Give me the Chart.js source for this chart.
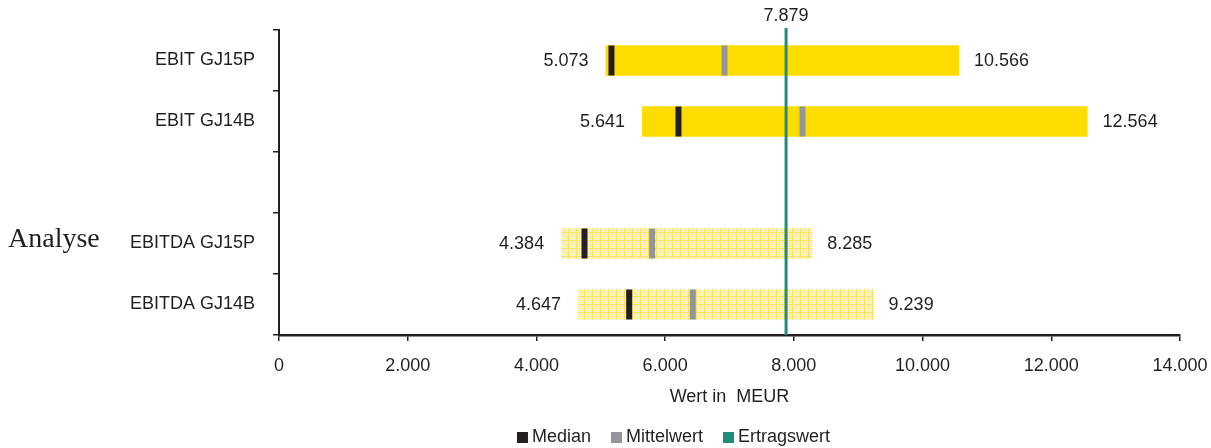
<!DOCTYPE html>
<html>
<head>
<meta charset="utf-8">
<script src="https://cdn.jsdelivr.net/npm/chart.js@4.4.1/dist/chart.umd.min.js"></script>
<style>
  html, body { margin: 0; padding: 0; background: #fff; }
  #wrap { width: 1211px; height: 448px; position: relative; }
</style>
</head>
<body>
<div id="wrap"><canvas id="chart"></canvas></div>
<script>
// Bandbreiten je Kennzahl (Anzeige mit Tausenderpunkt)
const categories = ['EBIT GJ15P', 'EBIT GJ14B', '', 'EBITDA GJ15P', 'EBITDA GJ14B'];
const minVals    = [5073, 5641, null, 4384, 4647];
const maxVals    = [10566, 12564, null, 8285, 9239];
const medianVals = [5166, 6207, null, 4747, 5441];
const meanVals   = [6922, 8134, null, 5798, 6430];
const ertragswert = 7879;
const xTicks = [0, 2000, 4000, 6000, 8000, 10000, 12000, 14000];

const INK = '#231f20';
const FONT = '"Liberation Sans", Arial, sans-serif';
const FSIZE = 18;
const YELLOW = '#ffdc00';
const GREY = '#939598';
const TEAL = '#1f8c7c';

const fmt = v => String(v).replace(/\B(?=(\d{3})+(?!\d))/g, '.');

// helles Karomuster fuer die EBITDA-Balken
function gridPattern() {
  const c = document.createElement('canvas');
  c.width = 8; c.height = 8;
  const g = c.getContext('2d');
  for (let i = 0; i < 8; i++) {
    for (let j = 0; j < 8; j++) {
      g.fillStyle = (i + j) % 2 ? '#fffce8' : '#fde97a';
      g.fillRect(i, j, 1, 1);
    }
  }
  g.fillStyle = '#fae25a';
  g.fillRect(0, 0, 8, 1);
  g.fillRect(0, 0, 1, 8);
  return g.createPattern(c, 'repeat');
}
const pattern = gridPattern();
const barColors = categories.map(c => c.startsWith('EBITDA') ? pattern : YELLOW);

// Werte links/rechts der Balken, Ertragswert-Linie, Achsentitel links, Legende unten
const annotate = {
  id: 'annotate',
  afterDatasetsDraw(chart) {
    const { ctx, chartArea } = chart;
    const x = chart.scales.x, y = chart.scales.y;
    ctx.save();
    ctx.font = FSIZE + 'px ' + FONT;
    ctx.fillStyle = INK;
    ctx.textBaseline = 'middle';
    categories.forEach((c, i) => {
      if (minVals[i] == null) return;
      const py = y.getPixelForValue(i) + 1;
      ctx.textAlign = 'right';
      ctx.fillText(fmt(minVals[i]), x.getPixelForValue(minVals[i]) - 17, py);
      ctx.textAlign = 'left';
      ctx.fillText(fmt(maxVals[i]), x.getPixelForValue(maxVals[i]) + 15, py);
    });

    const ex = x.getPixelForValue(ertragswert);
    ctx.strokeStyle = TEAL;
    ctx.lineWidth = 3;
    ctx.beginPath();
    ctx.moveTo(ex, chartArea.top - 2);
    ctx.lineTo(ex, chartArea.bottom);
    ctx.stroke();
    ctx.textAlign = 'center';
    ctx.fillText(fmt(ertragswert), ex, chartArea.top - 14);

    // Legende
    const items = chart.data.datasets.filter(d => d.label);
    let lw = 0;
    items.forEach((d, i) => { lw += 11 + 4 + ctx.measureText(d.label).width + (i ? 20 : 0); });
    let lx = chart.width / 2 + 68 - lw / 2;
    const ly = chart.height - 11;
    ctx.textAlign = 'left';
    items.forEach(d => {
      ctx.fillStyle = d.backgroundColor;
      ctx.fillRect(lx, ly - 5, 11, 11);
      lx += 15;
      ctx.fillStyle = INK;
      ctx.fillText(d.label, lx, ly);
      lx += ctx.measureText(d.label).width + 20;
    });

    ctx.font = '28px "Liberation Serif", "Times New Roman", serif';
    ctx.textBaseline = 'alphabetic';
    ctx.fillText('Analyse', 8, y.getPixelForValue(3) + 3);
    ctx.restore();
  }
};

const markStyle = color => ({
  type: 'line',
  showLine: false,
  pointStyle: 'line',
  rotation: 90,
  pointRadius: 15,
  pointBorderWidth: 6,
  borderWidth: 6,
  borderColor: color,
  pointBorderColor: color,
  backgroundColor: color,
  order: 0
});

new Chart(document.getElementById('chart'), {
  type: 'bar',
  data: {
    labels: categories,
    datasets: [
      { label: 'Median', data: medianVals, ...markStyle(INK) },
      { label: 'Mittelwert', data: meanVals, ...markStyle(GREY) },
      { label: 'Ertragswert', type: 'line', data: [], backgroundColor: TEAL, borderColor: TEAL, order: 0 },
      {
        label: '',
        data: categories.map((c, i) => minVals[i] == null ? null : [minVals[i], maxVals[i]]),
        backgroundColor: barColors,
        borderWidth: 0,
        barPercentage: 1,
        categoryPercentage: 0.5,
        order: 1
      }
    ]
  },
  options: {
    indexAxis: 'y',
    responsive: true,
    maintainAspectRatio: false,
    animation: false,
    events: [],
    layout: { padding: { left: 0, right: 31, top: 30, bottom: 33 } },
    scales: {
      x: {
        min: 0, max: 14000,
        afterBuildTicks: s => { s.ticks = xTicks.map(v => ({ value: v })); },
        afterFit: s => { s.height = 80; s.paddingLeft = 0; s.paddingRight = 0; },
        border: { color: INK, width: 2.5 },
        grid: { drawOnChartArea: false, color: INK, lineWidth: 1.5, tickLength: 6 },
        ticks: { color: INK, font: { family: FONT, size: FSIZE }, padding: 14, maxRotation: 0, callback: v => fmt(v) },
        title: { display: true, text: 'Wert in  MEUR', color: INK, font: { family: FONT, size: FSIZE }, padding: { top: 4, bottom: 7 } }
      },
      y: {
        afterFit: s => { s.width = 279; },
        border: { color: INK, width: 2 },
        grid: { drawOnChartArea: false, color: INK, lineWidth: 1.5, tickLength: 6 },
        ticks: { color: INK, font: { family: FONT, size: FSIZE }, padding: 18 }
      }
    },
    plugins: {
      tooltip: { enabled: false },
      legend: { display: false }
    }
  },
  plugins: [annotate]
});
</script>
</body>
</html>
